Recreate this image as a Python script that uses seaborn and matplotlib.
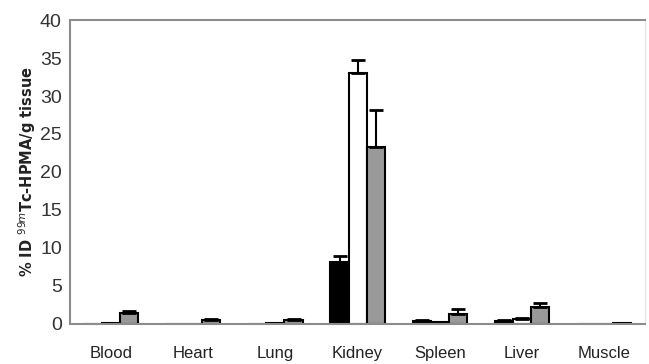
import matplotlib
matplotlib.use('Agg')
import matplotlib.pyplot as plt
import seaborn as sns
import numpy as np
import pandas as pd

# values (%ID/g tissue)
tissues = ['Blood', 'Heart', 'Lung', 'Kidney', 'Spleen', 'Liver', 'Muscle']
groups = ['g1', 'g2', 'g3']
mean_g1 = [0.05, 0.02, 0.05, 8.2, 0.4, 0.35, 0.02]
mean_g2 = [0.1, 0.02, 0.1, 33.0, 0.3, 0.6, 0.02]
mean_g3 = [1.4, 0.5, 0.5, 23.3, 1.3, 2.2, 0.1]
err_g1 = [0.0, 0.0, 0.0, 0.7, 0.1, 0.15, 0.0]
err_g2 = [0.0, 0.0, 0.0, 1.7, 0.0, 0.2, 0.0]
err_g3 = [0.3, 0.2, 0.2, 4.8, 0.7, 0.5, 0.0]
colors = ['black', 'white', '#999999']

sns.set_style('white')
plt.rcParams['font.family'] = ['Liberation Sans Narrow', 'Liberation Sans', 'DejaVu Sans']

df = pd.DataFrame({
    'tissue': tissues * 3,
    'group': [g for g in groups for _ in tissues],
    'value': mean_g1 + mean_g2 + mean_g3,
})
errs = [err_g1, err_g2, err_g3]

fig = plt.figure(figsize=(6.49, 3.64), dpi=100)
ax = fig.add_axes([0.108, 0.11, 0.886, 0.835])
sns.barplot(data=df, x='tissue', y='value', hue='group', palette=colors,
            edgecolor='black', linewidth=1.5, width=0.66, legend=False, ax=ax)

# upper-only error bars on top of each bar
for container, e in zip(ax.containers, errs):
    for bar, err in zip(container, e):
        if err <= 0:
            continue
        x = bar.get_x() + bar.get_width() / 2
        y = bar.get_height()
        ax.errorbar(x, y, yerr=[[0], [err]], fmt='none', ecolor='black',
                    elinewidth=1.5, capsize=5, capthick=2)

ax.set_ylim(0, 40)
ax.set_xlim(-0.5, 6.5)
ax.set_yticks(range(0, 41, 5))
ax.set_xlabel('')
ax.set_ylabel('% ID $^{99m}$Tc-HPMA/g tissue', fontsize=10.5, fontweight='bold',
              family='DejaVu Sans', color='#222222', labelpad=1)
ax.tick_params(axis='y', labelsize=14, colors='#333333', length=0, pad=6)
ax.tick_params(axis='x', labelsize=12, colors='#222222', length=0, pad=16)
for s in ['left', 'bottom', 'top']:
    ax.spines[s].set_color('#8c8c8c')
    ax.spines[s].set_linewidth(1.5)
ax.spines['right'].set_color('#e6e6e6')
ax.spines['right'].set_linewidth(1)

plt.savefig('out.png', dpi=100)
